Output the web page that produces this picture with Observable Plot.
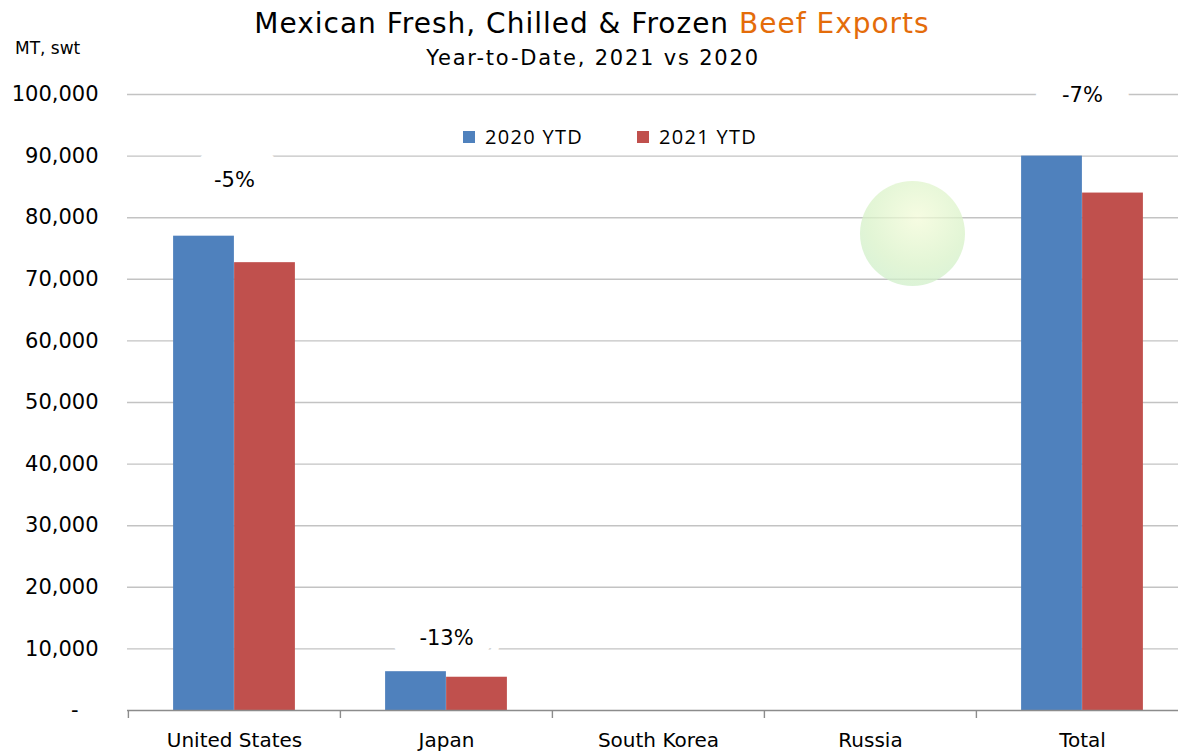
<!DOCTYPE html>
<html>
<head>
<meta charset="utf-8">
<script src="https://cdn.jsdelivr.net/npm/d3@7"></script>
<script src="https://cdn.jsdelivr.net/npm/@observablehq/plot@0.6"></script>
<style>
  html, body { margin: 0; padding: 0; background: #fff; overflow: hidden; width: 1178px; height: 751px; }
  #wrap { position: relative; width: 1178px; height: 751px; overflow: hidden; }
  #chart { position: absolute; left: 0; top: 0; }
  #chart svg { max-width: none !important; }
  .title { position: absolute; left: 0; width: 1184px; top: 7px; text-align: center;
           font-family: "DejaVu Sans", sans-serif; font-size: 28px; letter-spacing: 1px; color: #000; white-space: nowrap; }
  .title .hl { color: #E46C0A; }
  .subtitle { position: absolute; left: 0; width: 1186px; top: 46px; text-align: center;
              font-family: "DejaVu Sans", sans-serif; font-size: 21px; letter-spacing: 1.8px; color: #000; white-space: nowrap; }
  .unit { position: absolute; left: 15px; top: 38px; font-family: "DejaVu Sans", sans-serif; font-size: 17px; color: #000; }
  .legend { position: absolute; top: 123px; left: 463px; font-family: "Open Sans", sans-serif; font-size: 20px; letter-spacing: 1.3px; color: #000; display: flex; align-items: center; white-space: nowrap; }
  .legend .sw { display: inline-block; width: 12px; height: 12px; margin-right: 10px; }
  .legend .item { display: flex; align-items: center; }
  .wm { position: absolute; left: 860px; top: 181px; width: 105px; height: 105px; border-radius: 50%;
        background: radial-gradient(circle at 55% 35%, #f3fbd8 0%, #d9f2c8 55%, #c6eccb 100%); opacity: 0.75; }
</style>
</head>
<body>
<div id="wrap">
  <div id="chart"></div>
  <div class="wm"></div>
  <div class="title">Mexican Fresh, Chilled &amp; Frozen <span class="hl">Beef Exports</span></div>
  <div class="subtitle">Year-to-Date, 2021 vs 2020</div>
  <div class="unit">MT, swt</div>
  <div class="legend" id="legend"></div>
</div>
<script>
// ---- data ----
const categories = ["United States", "Japan", "South Korea", "Russia", "Total"];
const seriesNames = ["2020 YTD", "2021 YTD"];
const values2020 = [77000, 6300, 0, 0, 90000];
const values2021 = [72700, 5400, 0, 0, 84000];
const changeLabels = ["-5%", "-13%", "", "", "-7%"];
const changeLabelY = [86000, 11800, null, null, 99800];
const yTicks = [0, 10000, 20000, 30000, 40000, 50000, 60000, 70000, 80000, 90000, 100000];
const seriesColors = ["#4F81BD", "#C0504D"];

// ---- layout ----
const W = 1190, H = 751, mL = 127, mR = 2, mT = 94, mB = 41;
const step = (W - mL - mR) / categories.length;
const barW = 61;
const gap = (step - 2 * barW) / 2;
const F = "DejaVu Sans, sans-serif";

const rows2020 = categories.map((c, i) => ({cat: c, value: values2020[i]}));
const rows2021 = categories.map((c, i) => ({cat: c, value: values2021[i]}));
const labels = categories.map((c, i) => ({cat: c, y: changeLabelY[i], label: changeLabels[i]})).filter(d => d.label);

const chart = Plot.plot({
  width: W, height: H,
  marginLeft: mL, marginRight: mR, marginTop: mT, marginBottom: mB,
  style: {fontFamily: F, fontSize: "20px", color: "#000", background: "#fff", maxWidth: "none"},
  x: {domain: categories, padding: 0},
  y: {domain: [0, 100000]},
  marks: [
    Plot.gridY(yTicks.filter(d => d > 0), {stroke: "#c3c3c3", strokeOpacity: 1, strokeWidth: 1.4}),
    Plot.axisY(yTicks, {tickSize: 0, tickPadding: 29, fontSize: 21, label: null,
      tickFormat: d => d === 0 ? "-\u00a0\u00a0\u00a0" : d3.format(",")(d)}),
    Plot.text(labels, {x: "cat", y: "y", text: "label", fill: "#000", stroke: "#fff", strokeWidth: 54, fontSize: 21}),
    Plot.barY(rows2020, {x: "cat", y: "value", fill: seriesColors[0], insetLeft: gap, insetRight: step - gap - barW}),
    Plot.barY(rows2021, {x: "cat", y: "value", fill: seriesColors[1], insetLeft: gap + barW, insetRight: gap}),
    Plot.ruleY([0], {stroke: "#8c8c8c", strokeWidth: 1.4}),
    Plot.ruleX(categories, {x: d => d, dx: -step / 2, y1: 0, y2: -1300, stroke: "#8c8c8c", strokeWidth: 1.4}),
    Plot.ruleX([categories[categories.length - 1]], {x: d => d, dx: step / 2, y1: 0, y2: -1300, stroke: "#8c8c8c", strokeWidth: 1.4}),
    Plot.axisX({tickSize: 0, tickPadding: 22, fontSize: 20, label: null})
  ]
});
document.getElementById("chart").appendChild(chart);

const lg = document.getElementById("legend");
seriesNames.forEach((s, i) => {
  const it = document.createElement("span");
  it.className = "item";
  if (i > 0) it.style.marginLeft = "54px";
  it.innerHTML = `<span class="sw" style="background:${seriesColors[i]}"></span>${s}`;
  lg.appendChild(it);
});
</script>
</body>
</html>
